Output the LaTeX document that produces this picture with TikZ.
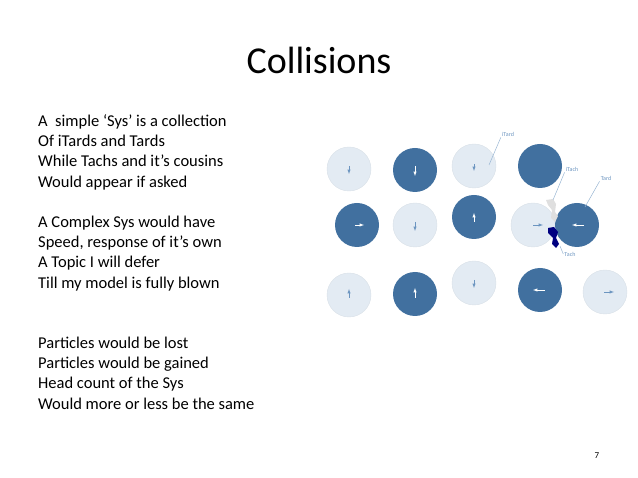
\documentclass[tikz,border=0pt]{standalone}
\usepackage{fontspec}
\setmainfont{Carlito}
\definecolor{dkb}{HTML}{41709F}
\definecolor{ltb}{HTML}{E3EBF3}
\definecolor{arb}{HTML}{6C95C0}
\begin{document}
\begin{tikzpicture}[x=1pt,y=-1pt,
 lt/.style={circle,fill=ltb,draw=ltb!90!gray,minimum size=44pt,inner sep=0},
 dk/.style={circle,fill=dkb,draw=none,minimum size=44pt,inner sep=0},
 ar/.style={-latex,line width=0.5pt},
 lab/.style={font=\fontsize{6}{7}\selectfont,text=arb,inner sep=1pt},
 ll/.style={draw=arb!70,line width=0.5pt},
 tx/.style={anchor=base west,font=\fontsize{16.5}{19}\selectfont,inner sep=0}]
\path[use as bounding box] (0,0) rectangle (638,478);
\node[font=\fontsize{38}{42}\selectfont] (title) at (319,60) {Collisions};
\foreach \t [count=\i] in {A\ \ simple ‘Sys’ is a collection,Of iTards and Tards,While Tachs and it’s cousins,Would appear if asked}
 \node[tx] (a\i) at (38,106+20.3*\i) {\t};
\foreach \t [count=\i] in {A Complex Sys would have,{Speed, response of it’s own},A Topic I will defer,Till my model is fully blown}
 \node[tx] (b\i) at (38,207+20.3*\i) {\t};
\foreach \t [count=\i] in {Particles would be lost,Particles would be gained,Head count of the Sys,Would more or less be the same}
 \node[tx] (c\i) at (38,328+20.3*\i) {\t};
\node[font=\fontsize{9}{10}\selectfont] (pg) at (597,456) {7};
% circles
\node[lt] (p1) at (349,169) {}; \node[dk] (p2) at (415,170) {};
\node[lt] (p3) at (474,166) {}; \node[dk] (p4) at (540,166) {};
\node[dk] (p5) at (357,225) {}; \node[lt] (p6) at (415,225) {};
\node[dk] (p7) at (474,217) {}; \node[lt] (p8) at (533,225) {};
\node[dk] (p9) at (577,225) {};
\node[lt] (p10) at (349,295) {}; \node[dk] (p11) at (415,294) {};
\node[lt] (p12) at (474,283) {}; \node[dk] (p13) at (540,290) {};
\node[lt] (p14) at (605,292) {};
% arrows
\draw[ar,arb] (349,166)--(349,174);
\draw[ar,white] (415,166)--(415,176);
\draw[ar,arb] (474,164)--(474,171);
\draw[ar,white] (355,225)--(364,225);
\draw[ar,arb] (415,222)--(415,231);
\draw[ar,white] (474,222)--(474,213);
\draw[ar,arb] (533,225)--(543,225);
\draw[ar,white] (584,225)--(572,225);
\draw[ar,arb] (349,298)--(349,289);
\draw[ar,white] (415,298)--(415,288);
\draw[ar,arb] (474,280)--(474,288);
\draw[ar,white] (545,290)--(533,290);
\draw[ar,arb] (604,292)--(614,292);
% debris
\fill[gray!25] (546,200)--(553,199)--(556,204)--(555,212)--(558,216)--(555,222)--(551,218)--(552,210)--(548,205)--cycle;
\fill[blue!50!black] (548,228)--(554,227)--(558,232)--(556,238)--(559,244)--(556,248)--(552,244)--(553,238)--(548,233)--cycle;
% labels
\node[lab] (l1) at (508,134) {iTard}; \draw[ll] (l1.south west)--(489,165);
\node[lab] (l2) at (572,169) {iTach}; \draw[ll] (l2.south west)--(553,200);
\node[lab] (l3) at (606,178) {Tard}; \draw[ll] (l3.south west)--(585,207);
\node[lab] (l4) at (570,254) {Tach}; \draw[ll] (l4.west)--(560,246);
\end{tikzpicture}
\end{document}
